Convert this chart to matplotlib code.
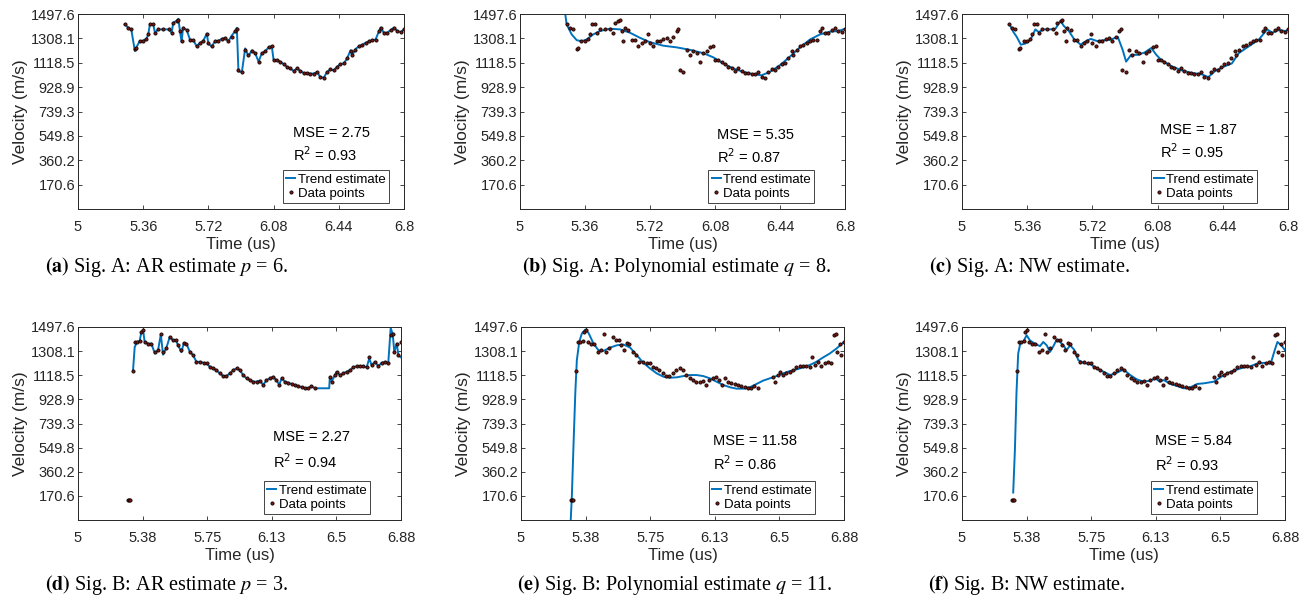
import matplotlib
matplotlib.use("Agg")
import matplotlib.pyplot as plt
from matplotlib.lines import Line2D

plt.rcParams['font.family'] = ['Liberation Sans', 'DejaVu Sans']

# ---------------- data ----------------
# Signal A data points
t_a = [5.258, 5.277, 5.295, 5.314, 5.323, 5.340, 5.360, 5.378, 5.388, 5.397, 5.415, 5.425, 5.443, 5.470, 5.500,
       5.517, 5.526, 5.545, 5.554, 5.563, 5.572, 5.580, 5.600, 5.618, 5.637, 5.655, 5.674, 5.692, 5.711, 5.720,
       5.738, 5.757, 5.775, 5.794, 5.812, 5.830, 5.849, 5.868, 5.877, 5.886, 5.905, 5.923, 5.941, 5.960, 5.978,
       5.997, 6.015, 6.034, 6.052, 6.070, 6.080, 6.098, 6.117, 6.135, 6.154, 6.172, 6.190, 6.209, 6.228, 6.246,
       6.265, 6.283, 6.301, 6.320, 6.338, 6.357, 6.375, 6.394, 6.412, 6.430, 6.449, 6.468, 6.486, 6.505, 6.514,
       6.532, 6.551, 6.569, 6.588, 6.606, 6.625, 6.643, 6.662, 6.671, 6.689, 6.708, 6.726, 6.745, 6.763, 6.782, 6.800]
v_a = [1418, 1392, 1378, 1225, 1233, 1286, 1286, 1304, 1339, 1418, 1418, 1352, 1378, 1378, 1378,
       1352, 1431, 1445, 1453, 1365, 1286, 1392, 1373, 1299, 1294, 1246, 1273, 1286, 1339, 1273,
       1246, 1286, 1286, 1304, 1312, 1286, 1320, 1365, 1383, 1060, 1047, 1219, 1180, 1206, 1193,
       1127, 1193, 1206, 1240, 1246, 1140, 1140, 1127, 1108, 1087, 1074, 1055, 1074, 1055, 1039,
       1039, 1034, 1034, 1047, 1007, 1002, 1047, 1066, 1060, 1087, 1108, 1113, 1153, 1206, 1180,
       1219, 1246, 1259, 1273, 1286, 1294, 1299, 1365, 1392, 1352, 1352, 1373, 1392, 1365, 1357, 1378]

# Signal A: AR trend (p = 6)
ar_a = [1418, 1392, 1370, 1210, 1240, 1286, 1290, 1304, 1339, 1418, 1418, 1352, 1378, 1378, 1378,
        1352, 1431, 1445, 1460, 1365, 1280, 1392, 1373, 1299, 1294, 1246, 1273, 1290, 1345, 1265,
        1246, 1286, 1290, 1304, 1312, 1286, 1330, 1365, 1390, 1050, 1047, 1230, 1170, 1215, 1193,
        1127, 1193, 1206, 1240, 1246, 1140, 1140, 1127, 1108, 1087, 1074, 1055, 1074, 1055, 1039,
        1039, 1034, 1034, 1047, 1007, 1002, 1047, 1066, 1060, 1087, 1108, 1113, 1153, 1215, 1175,
        1225, 1246, 1259, 1273, 1286, 1294, 1299, 1365, 1392, 1352, 1352, 1373, 1392, 1365, 1357, 1378]

# Signal A: polynomial trend (q = 8)
poly_a_t = [5.245, 5.258, 5.286, 5.314, 5.341, 5.369, 5.406, 5.443, 5.498, 5.554, 5.609, 5.665, 5.720, 5.794,
            5.868, 5.941, 6.015, 6.070, 6.126, 6.181, 6.237, 6.292, 6.338, 6.384, 6.440, 6.495, 6.551, 6.606,
            6.662, 6.717, 6.763, 6.800]
poly_a_v = [1560, 1418, 1339, 1294, 1286, 1299, 1339, 1365, 1383, 1378, 1352, 1312, 1278, 1251,
            1238, 1219, 1193, 1161, 1113, 1074, 1047, 1029, 1021, 1047, 1100, 1166, 1238, 1299,
            1339, 1360, 1365, 1383]

# Signal A: NW trend
nw_a_t = [5.265, 5.284, 5.302, 5.325, 5.349, 5.377, 5.405, 5.423, 5.451, 5.488, 5.516, 5.544, 5.562, 5.590,
          5.618, 5.655, 5.683, 5.711, 5.748, 5.785, 5.822, 5.860, 5.887, 5.906, 5.934, 5.971, 6.008, 6.045,
          6.073, 6.100, 6.156, 6.212, 6.268, 6.323, 6.360, 6.398, 6.444, 6.490, 6.528, 6.583, 6.639, 6.685,
          6.713, 6.750, 6.787, 6.800]
nw_a_v = [1410, 1357, 1320, 1259, 1267, 1294, 1378, 1357, 1378, 1378, 1383, 1445, 1405, 1365,
          1304, 1259, 1286, 1304, 1286, 1294, 1299, 1320, 1219, 1127, 1180, 1180, 1198, 1233,
          1180, 1140, 1092, 1060, 1039, 1029, 1007, 1055, 1087, 1113, 1193, 1246, 1299, 1378,
          1352, 1373, 1365, 1375]

# Signal B data points
t_b = [5.291, 5.298, 5.305, 5.320, 5.330, 5.344, 5.359, 5.369, 5.379, 5.388, 5.408, 5.427, 5.447, 5.466, 5.482,
       5.495, 5.515, 5.534, 5.553, 5.569, 5.583, 5.602, 5.616, 5.631, 5.651, 5.670, 5.689, 5.709, 5.732, 5.748,
       5.767, 5.787, 5.806, 5.825, 5.845, 5.864, 5.884, 5.903, 5.923, 5.942, 5.961, 5.981, 6.000, 6.020, 6.039,
       6.058, 6.078, 6.097, 6.117, 6.136, 6.155, 6.171, 6.185, 6.204, 6.223, 6.243, 6.262, 6.282, 6.301, 6.321,
       6.340, 6.359, 6.379, 6.466, 6.476, 6.495, 6.505, 6.524, 6.544, 6.563, 6.583, 6.602, 6.621, 6.641, 6.660,
       6.680, 6.695, 6.709, 6.728, 6.748, 6.767, 6.787, 6.806, 6.820, 6.832, 6.841, 6.855, 6.865, 6.879]
v_b = [137, 137, 137, 1152, 1380, 1380, 1388, 1459, 1472, 1380, 1367, 1367, 1302, 1315, 1440,
       1302, 1336, 1420, 1393, 1393, 1354, 1315, 1373, 1367, 1302, 1276, 1224, 1224, 1216, 1211,
       1185, 1172, 1159, 1133, 1113, 1113, 1133, 1159, 1172, 1159, 1120, 1094, 1081, 1068, 1068,
       1076, 1042, 1081, 1094, 1107, 1081, 1042, 1094, 1068, 1060, 1050, 1042, 1034, 1024, 1016,
       1016, 1034, 1016, 1107, 1068, 1120, 1146, 1120, 1133, 1146, 1159, 1180, 1190, 1190, 1190,
       1180, 1263, 1198, 1224, 1190, 1216, 1224, 1216, 1433, 1440, 1302, 1367, 1276, 1380]

# Signal B: AR trend (p = 3)
ar_b_t = [5.320, 5.330, 5.344, 5.359, 5.369, 5.379, 5.388, 5.408, 5.427, 5.447, 5.466, 5.482, 5.495, 5.515,
          5.534, 5.553, 5.569, 5.583, 5.602, 5.616, 5.631, 5.651, 5.670, 5.689, 5.709, 5.732, 5.748, 5.767,
          5.787, 5.806, 5.825, 5.845, 5.864, 5.884, 5.903, 5.923, 5.942, 5.961, 5.981, 6.000, 6.020, 6.039,
          6.058, 6.078, 6.097, 6.117, 6.136, 6.155, 6.171, 6.185, 6.204, 6.223, 6.243, 6.262, 6.282, 6.301,
          6.321, 6.340, 6.359, 6.379, 6.462, 6.466, 6.476, 6.495, 6.505, 6.524, 6.544, 6.563, 6.583, 6.602,
          6.621, 6.641, 6.660, 6.680, 6.695, 6.709, 6.728, 6.748, 6.767, 6.787, 6.806, 6.820, 6.832, 6.841,
          6.855, 6.865, 6.879]
ar_b_v = [1152, 1340, 1380, 1388, 1459, 1472, 1380, 1367, 1367, 1290, 1315, 1440, 1280, 1336,
          1420, 1393, 1393, 1354, 1300, 1373, 1367, 1302, 1276, 1224, 1224, 1216, 1211, 1185,
          1172, 1159, 1133, 1113, 1113, 1133, 1159, 1172, 1159, 1120, 1094, 1081, 1068, 1068,
          1076, 1042, 1081, 1094, 1107, 1081, 1042, 1094, 1068, 1060, 1050, 1042, 1034, 1024,
          1016, 1016, 1034, 1016, 1016, 1107, 1068, 1120, 1146, 1120, 1133, 1146, 1159, 1180,
          1190, 1190, 1190, 1180, 1250, 1198, 1224, 1190, 1216, 1224, 1216, 1490, 1440, 1302,
          1367, 1276, 1260]

# Signal B: polynomial trend (q = 11)
poly_b_t = [5.285, 5.296, 5.306, 5.316, 5.325, 5.339, 5.354, 5.374, 5.393, 5.422, 5.451, 5.480, 5.519, 5.558,
            5.596, 5.635, 5.674, 5.712, 5.751, 5.790, 5.829, 5.867, 5.906, 5.945, 5.983, 6.022, 6.061, 6.100,
            6.138, 6.177, 6.216, 6.255, 6.294, 6.332, 6.371, 6.409, 6.448, 6.487, 6.526, 6.564, 6.603, 6.642,
            6.680, 6.719, 6.758, 6.797, 6.836, 6.880]
poly_b_v = [-150, 170, 587, 977, 1237, 1380, 1446, 1477, 1451, 1367, 1315, 1310, 1336, 1354,
            1360, 1336, 1276, 1216, 1172, 1133, 1107, 1099, 1102, 1112, 1120, 1120, 1112, 1094,
            1068, 1042, 1024, 1013, 1013, 1024, 1050, 1076, 1094, 1112, 1133, 1151, 1164, 1180,
            1198, 1224, 1258, 1289, 1328, 1380]

# Signal B: NW trend
nw_b_t = [5.298, 5.308, 5.317, 5.327, 5.341, 5.356, 5.376, 5.395, 5.424, 5.454, 5.473, 5.493, 5.512, 5.532,
          5.551, 5.570, 5.590, 5.609, 5.629, 5.652, 5.677, 5.707, 5.746, 5.785, 5.824, 5.863, 5.901, 5.940,
          5.979, 6.018, 6.057, 6.096, 6.125, 6.151, 6.174, 6.213, 6.252, 6.291, 6.330, 6.369, 6.408, 6.466,
          6.495, 6.524, 6.563, 6.602, 6.641, 6.680, 6.719, 6.758, 6.797, 6.820, 6.836, 6.859, 6.880]
nw_b_v = [197, 535, 977, 1289, 1380, 1380, 1433, 1393, 1367, 1347, 1380, 1354, 1302, 1347,
          1399, 1380, 1354, 1315, 1354, 1321, 1237, 1216, 1206, 1172, 1146, 1120, 1138, 1164,
          1120, 1086, 1068, 1076, 1094, 1068, 1081, 1050, 1034, 1016, 1024, 1050, 1055, 1068,
          1094, 1120, 1146, 1164, 1180, 1190, 1211, 1216, 1211, 1315, 1380, 1354, 1315]

# Axis ticks / labels
y_ticks = [170.6, 360.2, 549.8, 739.3, 928.9, 1118.5, 1308.1, 1497.6]
y_labels = ["170.6", "360.2", "549.8", "739.3", "928.9", "1118.5", "1308.1", "1497.6"]
x_ticks_a = [5, 5.36, 5.72, 6.08, 6.44, 6.8]
x_labels_a = ["5", "5.36", "5.72", "6.08", "6.44", "6.8"]
x_ticks_b = [5, 5.376, 5.752, 6.128, 6.504, 6.88]
x_labels_b = ["5", "5.38", "5.75", "6.13", "6.5", "6.88"]

mse_vals = ["2.75", "5.35", "1.87", "2.27", "11.58", "5.84"]
r2_vals = ["0.93", "0.87", "0.95", "0.94", "0.86", "0.93"]
captions = [
    (r"$\mathbf{(a)}$", r" Sig. A: AR estimate $p$ = 6."),
    (r"$\mathbf{(b)}$", r" Sig. A: Polynomial estimate $q$ = 8."),
    (r"$\mathbf{(c)}$", r" Sig. A: NW estimate."),
    (r"$\mathbf{(d)}$", r" Sig. B: AR estimate $p$ = 3."),
    (r"$\mathbf{(e)}$", r" Sig. B: Polynomial estimate $q$ = 11."),
    (r"$\mathbf{(f)}$", r" Sig. B: NW estimate."),
]

# ---------------- figure ----------------
W, H = 1309, 601
fig = plt.figure(figsize=(W / 100, H / 100), dpi=100)

# axes boxes in pixels: left, right, top, bottom
boxes = [(78, 404, 14, 209), (520, 845, 14, 209), (962, 1288, 14, 209),
         (78, 401, 327, 520), (521, 844, 327, 520), (962, 1285, 327, 520)]
text_pos = [(0.66, 0.39, 0.277), (0.606, 0.38, 0.268), (0.607, 0.405, 0.294),
            (0.604, 0.43, 0.30), (0.594, 0.41, 0.29), (0.598, 0.41, 0.285)]
leg_x1 = [0.954, 0.906, 0.906, 0.904, 0.91, 0.913]
cap_pos = [(45, 267), (522, 267), (929, 267), (45, 585), (517, 585), (928, 585)]

trends = [(t_a, ar_a), (poly_a_t, poly_a_v), (nw_a_t, nw_a_v),
          (ar_b_t, ar_b_v), (poly_b_t, poly_b_v), (nw_b_t, nw_b_v)]
datas = [(t_a, v_a)] * 3 + [(t_b, v_b)] * 3

BLUE = '#0072BD'
DARK = '#262626'
MFC = '#7a1a12'
MEC = '#120303'

for i in range(6):
    l, r, t, b = boxes[i]
    ax = fig.add_axes([l / W, 1 - b / H, (r - l) / W, (b - t) / H])
    tt, tv = trends[i]
    dt, dv = datas[i]
    ax.plot(tt, tv, color=BLUE, lw=1.4, label='Trend estimate', zorder=2)
    ax.plot(dt, dv, ls='none', marker='o', ms=2.3, mfc=MFC, mec=MEC, mew=0.6,
            label='Data points', zorder=3)
    if i < 3:
        ax.set_xlim(5, 6.8)
        ax.set_xticks(x_ticks_a)
        ax.set_xticklabels(x_labels_a)
    else:
        ax.set_xlim(5, 6.88)
        ax.set_xticks(x_ticks_b)
        ax.set_xticklabels(x_labels_b)
    ax.set_ylim(-19, 1497.6)
    ax.set_yticks(y_ticks)
    ax.set_yticklabels(y_labels)
    ax.tick_params(direction='in', top=True, right=True, length=3, width=0.6,
                   colors=DARK, labelsize=10.5)
    ax.tick_params(axis='x', pad=8)
    ax.tick_params(axis='y', pad=2)
    for s in ax.spines.values():
        s.set_color(DARK)
        s.set_linewidth(0.7)
    ax.set_xlabel('Time (us)', fontsize=12, color=DARK, labelpad=2)
    ax.set_ylabel('Velocity (m/s)', fontsize=12.5, color=DARK, labelpad=2)
    x0, y1, y2 = text_pos[i]
    ax.text(x0, y1, 'MSE = ' + mse_vals[i], transform=ax.transAxes, fontsize=10.5,
            va='center', ha='left', color='black')
    ax.text(x0, y2, r'R$^{2}$ = ' + r2_vals[i], transform=ax.transAxes, fontsize=10.5,
            va='center', ha='left', color='black', math_fontfamily='dejavusans')
    handles = [Line2D([], [], color=BLUE, lw=1.4),
               Line2D([], [], ls='none', marker='o', ms=2.3, mfc=MFC, mec=MEC, mew=0.6)]
    leg = ax.legend(handles, ['Trend estimate', 'Data points'], loc='lower right',
                    bbox_to_anchor=(leg_x1[i], 0.03), fontsize=9.5, handlelength=0.7,
                    handletextpad=0.2, borderpad=0.25, labelspacing=0.15, borderaxespad=0,
                    fancybox=False, framealpha=1, edgecolor=DARK)
    leg.get_frame().set_linewidth(0.6)

    cx, cy = cap_pos[i]
    lab, rest = captions[i]
    fig.text(cx / W, 1 - cy / H, lab + rest, fontsize=14.5, family='Liberation Serif',
             math_fontfamily='stix', va='center', ha='left')

fig.savefig('out.png', dpi=100)
